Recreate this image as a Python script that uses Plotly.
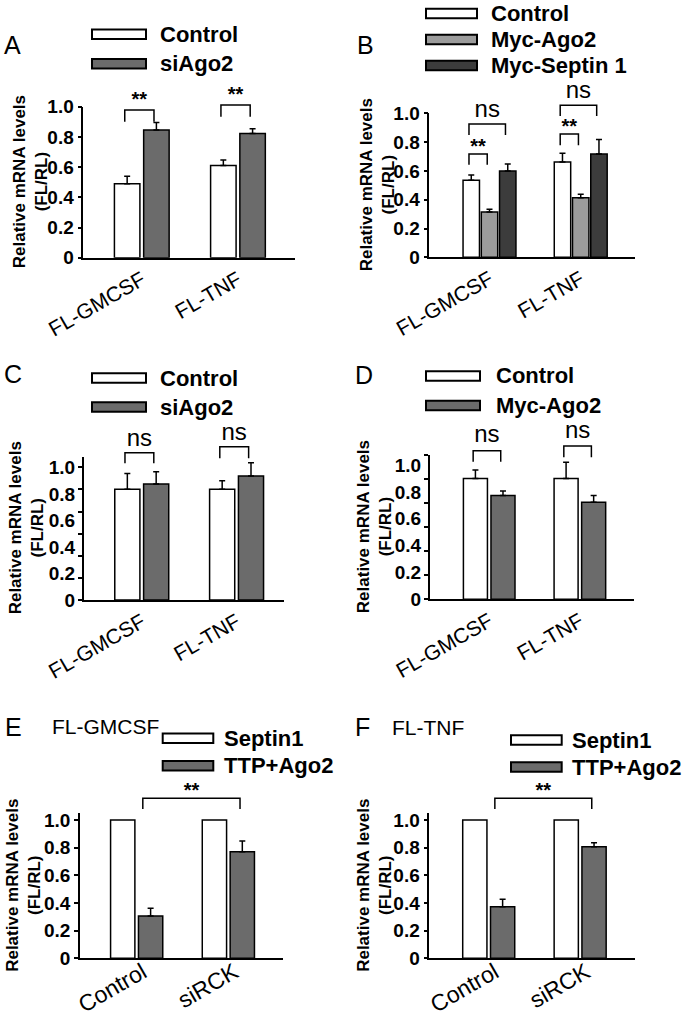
import plotly.graph_objects as go

W, H = 684, 1017
FONT = "Liberation Sans, Arial, sans-serif"

# ---------------- data ----------------
a_cats = ["FL-GMCSF", "FL-TNF"]
a_control = [0.49, 0.61]
a_control_err = [0.05, 0.037]
a_siago2 = [0.845, 0.823]
a_siago2_err = [0.05, 0.031]

b_cats = ["FL-GMCSF", "FL-TNF"]
b_control = [0.535, 0.662]
b_control_err = [0.037, 0.06]
b_mycago2 = [0.315, 0.414]
b_mycago2_err = [0.018, 0.023]
b_mycseptin1 = [0.60, 0.718]
b_mycseptin1_err = [0.048, 0.10]

c_cats = ["FL-GMCSF", "FL-TNF"]
c_control = [0.834, 0.834]
c_control_err = [0.12, 0.065]
c_siago2 = [0.874, 0.934]
c_siago2_err = [0.093, 0.10]

d_cats = ["FL-GMCSF", "FL-TNF"]
d_control = [0.90, 0.90]
d_control_err = [0.063, 0.12]
d_mycago2 = [0.772, 0.722]
d_mycago2_err = [0.034, 0.05]

e_cats = ["Control", "siRCK"]
e_septin1 = [1.0, 1.0]
e_ttpago2 = [0.306, 0.771]
e_ttpago2_err = [0.055, 0.077]

f_cats = ["Control", "siRCK"]
f_septin1 = [1.0, 1.0]
f_ttpago2 = [0.373, 0.807]
f_ttpago2_err = [0.054, 0.029]

y_ticks = [0, 0.2, 0.4, 0.6, 0.8, 1.0]
y_tick_labels = ["0", "0.2", "0.4", "0.6", "0.8", "1.0"]

# significance: (group_i, series_i, group_j, series_j, bracket top, leg bottom, label, label y)
a_sig = [(0, 0, 0, 1, 0.978, 0.901, "**", 1.036), (1, 0, 1, 1, 1.011, 0.934, "**", 1.07)]
b_sig = [(0, 0, 0, 1, 0.717, 0.643, "**", 0.76), (0, 0, 0, 2, 0.926, 0.849, "ns", 1.015),
         (1, 0, 1, 1, 0.856, 0.778, "**", 0.899), (1, 0, 1, 2, 1.056, 0.981, "ns", 1.148)]
c_sig = [(0, 0, 0, 1, 1.11, 1.03, "ns", 1.208), (1, 0, 1, 1, 1.155, 1.068, "ns", 1.251)]
d_sig = [(0, 0, 0, 1, 1.106, 1.025, "ns", 1.214), (1, 0, 1, 1, 1.141, 1.057, "ns", 1.246)]
e_sig = [(0, 1, 1, 1, 1.157, 1.08, "**", 1.20)]
f_sig = [(0, 1, 1, 1, 1.157, 1.08, "**", 1.20)]

# ---------------- styles / layout ----------------
WHITE = "#ffffff"
GRAY = "#6b6b6b"
LIGHT = "#9c9c9c"
DARK = "#3c3c3c"

panels = [
    dict(letter="A", cats=a_cats, sig=a_sig, xfs=21, xstand=0, xshift=0,
         series=[("Control", a_control, a_control_err, WHITE), ("siAgo2", a_siago2, a_siago2_err, GRAY)],
         left=83.3, right=295, y0=257.7, ppu=151, rtop=1.0, xr=(-0.608, 1.593),
         marks=None, letter_pos=(2, 44.7), ytitle_x=30,
         legend=dict(bx=(92, 146), tx=158, rows=[34.3, 63.8])),
    dict(letter="B", cats=b_cats, sig=b_sig, xfs=21, xstand=0, xshift=0,
         series=[("Control", b_control, b_control_err, WHITE), ("Myc-Ago2", b_mycago2, b_mycago2_err, LIGHT),
                 ("Myc-Septin 1", b_mycseptin1, b_mycseptin1_err, DARK)],
         left=429.3, right=635, y0=257.3, ppu=144, rtop=1.0, xr=(-0.66, 1.595),
         marks=None, letter_pos=(355, 44.7), ytitle_x=377,
         legend=dict(bx=(426, 477), tx=489, rows=[13.5, 39.5, 65.5])),
    dict(letter="C", cats=c_cats, sig=c_sig, xfs=21, xstand=0, xshift=0,
         series=[("Control", c_control, c_control_err, WHITE), ("siAgo2", c_siago2, c_siago2_err, GRAY)],
         left=84, right=284, y0=600, ppu=132.7, rtop=1.08, xr=(-0.609, 1.5),
         marks=1.0, letter_pos=(2, 374), ytitle_x=26,
         legend=dict(bx=(92, 146), tx=158, rows=[378, 407])),
    dict(letter="D", cats=d_cats, sig=d_sig, xfs=21, xstand=0, xshift=0,
         series=[("Control", d_control, d_control_err, WHITE), ("Myc-Ago2", d_mycago2, d_mycago2_err, GRAY)],
         left=430, right=634, y0=599.3, ppu=134.3, rtop=1.074, xr=(-0.653, 1.597),
         marks=1.074, letter_pos=(353, 375), ytitle_x=374,
         legend=dict(bx=(426, 480), tx=494, rows=[376, 405.5])),
    dict(letter="E", cats=e_cats, sig=e_sig, title="FL-GMCSF", title_x=50, xfs=23, xstand=-10, xshift=6,
         series=[("Septin1", e_septin1, None, WHITE), ("TTP+Ago2", e_ttpago2, e_ttpago2_err, GRAY)],
         left=80, right=283.3, y0=958.3, ppu=138.3, rtop=1.048, xr=(-0.618, 1.599),
         marks=None, letter_pos=(3, 726.7), ytitle_x=24,
         legend=dict(bx=(162.7, 213.3), tx=221.7, rows=[738.3, 765.8])),
    dict(letter="F", cats=f_cats, sig=f_sig, title="FL-TNF", title_x=390, xfs=23, xstand=-10, xshift=6,
         series=[("Septin1", f_septin1, None, WHITE), ("TTP+Ago2", f_ttpago2, f_ttpago2_err, GRAY)],
         left=429.3, right=635, y0=958.3, ppu=138.3, rtop=1.048, xr=(-0.65, 1.6),
         marks=None, letter_pos=(353, 727), ytitle_x=375,
         legend=dict(bx=(511, 561.7), tx=570, rows=[740, 767])),
]

EXT = 1.38  # value height of the overlay (annotation) axes


def fx(px):
    return px / W


def fy(py):
    return 1 - py / H


fig = go.Figure()
layout = dict(template="none", width=W, height=H, margin=dict(l=0, r=0, t=0, b=0, pad=0),
              paper_bgcolor="white", plot_bgcolor="rgba(0,0,0,0)",
              barmode="overlay", showlegend=False,
              font=dict(family=FONT, color="black"))
shapes = []
annotations = []
TICKFONT = dict(family=FONT, size=19, color="black", weight="bold")

for i, P in enumerate(panels, start=1):
    n = len(P["series"])
    if n == 2:
        bw, offs = 0.265, [-0.152, 0.152]
    else:
        bw, offs = 0.18, [-0.2, 0.0, 0.2]
    xa = "x" if i == 1 else f"x{i}"
    ya = "y" if i == 1 else f"y{i}"
    xb, yb = f"x{i + 6}", f"y{i + 6}"
    groups = list(range(len(P["cats"])))

    for (name, vals, errs, col), off in zip(P["series"], offs):
        kw = {}
        if errs is not None:
            kw["error_y"] = dict(type="data", array=errs, arrayminus=[0] * len(errs), symmetric=False,
                                 color="black", thickness=1.5, width=3)
        fig.add_trace(go.Bar(x=[g + off for g in groups], y=vals, width=bw, name=name,
                             marker=dict(color=col, line=dict(color="black", width=1.5)),
                             xaxis=xa, yaxis=ya, hoverinfo="skip", **kw))

    # brackets + significance labels on the taller overlay axes
    for gi, si, gj, sj, top, leg, lab, ly in P["sig"]:
        dl = -0.085 if P["letter"] in ("E", "F") else -0.025
        x1 = groups[gi] + offs[si] + dl
        x2 = groups[gj] + offs[sj] - 0.025
        fig.add_trace(go.Scatter(x=[x1, x1, x2, x2], y=[leg, top, top, leg], mode="lines",
                                 line=dict(color="black", width=1.5), xaxis=xb, yaxis=yb,
                                 hoverinfo="skip", cliponaxis=False))
        star = lab == "**"
        fig.add_trace(go.Scatter(x=[(x1 + x2) / 2], y=[ly], mode="text", text=[lab],
                                 textposition="middle center",
                                 textfont=dict(family=FONT, size=20 if star else 24, color="black",
                                               weight="bold" if star else "normal"),
                                 xaxis=xb, yaxis=yb, hoverinfo="skip", cliponaxis=False))

    dom_x = [fx(P["left"]), fx(P["right"])]
    dom_y = [fy(P["y0"]), fy(P["y0"] - P["rtop"] * P["ppu"])]
    dom_yb = [fy(P["y0"]), fy(P["y0"] - EXT * P["ppu"])]
    kx = "xaxis" if i == 1 else f"xaxis{i}"
    ky = "yaxis" if i == 1 else f"yaxis{i}"

    layout[kx] = dict(domain=dom_x, range=list(P["xr"]), anchor=ya, tickmode="array",
                      tickvals=groups, ticktext=P["cats"], tickangle=-30, ticks="",
                      ticklabelstandoff=P["xstand"], ticklabelshift=P["xshift"],
                      showline=True, linecolor="black", linewidth=1.5, showgrid=False,
                      zeroline=False, fixedrange=True, automargin=False,
                      tickfont=dict(family=FONT, size=P["xfs"], color="black"))
    ymain = dict(domain=dom_y, range=[0, P["rtop"]], anchor=xa, showline=True,
                 linecolor="black", linewidth=1.5, ticks="outside", ticklen=4,
                 tickwidth=1.5, tickcolor="black", showgrid=False, zeroline=False,
                 fixedrange=True, automargin=False, tickfont=TICKFONT)
    if P["marks"] is None:
        ymain.update(tickmode="array", tickvals=y_ticks, ticktext=y_tick_labels)
    else:
        ymain.update(tickmode="array", tickvals=[P["marks"] * k / 6 for k in range(7)],
                     showticklabels=False)
    layout[ky] = ymain

    layout[f"xaxis{i + 6}"] = dict(domain=dom_x, range=list(P["xr"]), anchor=yb, visible=False,
                                   fixedrange=True, automargin=False, showgrid=False, zeroline=False)
    yover = dict(domain=dom_yb, range=[0, EXT], anchor=xb, fixedrange=True, showgrid=False,
                 zeroline=False, showline=False, automargin=False)
    if P["marks"] is None:
        yover["visible"] = False
    else:
        yover.update(visible=True, tickmode="array", tickvals=y_ticks, ticktext=y_tick_labels,
                     ticks="outside", ticklen=4, tickwidth=1.5, tickcolor="rgba(0,0,0,0)",
                     tickfont=TICKFONT)
    layout[f"yaxis{i + 6}"] = yover

    # y axis title
    annotations.append(dict(text="Relative mRNA levels<br>(FL/RL)", textangle=-90,
                            xref="paper", yref=f"{ya} domain", x=fx(P["ytitle_x"]), y=0.5,
                            xanchor="center", yanchor="middle", showarrow=False,
                            font=dict(family=FONT, size=17, color="black", weight="bold")))
    # panel letter
    lx, lyy = P["letter_pos"]
    annotations.append(dict(text=P["letter"], xref="paper", yref="paper", x=fx(lx), y=fy(lyy),
                            xanchor="left", yanchor="middle", showarrow=False,
                            font=dict(family=FONT, size=25, color="black")))
    if "title" in P:
        annotations.append(dict(text=P["title"], xref="paper", yref="paper", x=fx(P["title_x"]),
                                y=fy(lyy), xanchor="left", yanchor="middle", showarrow=False,
                                font=dict(family=FONT, size=21, color="black")))
    # custom legend
    L = P["legend"]
    for (name, vals, errs, col), ry in zip(P["series"], L["rows"]):
        shapes.append(dict(type="rect", xref="paper", yref="paper",
                           x0=fx(L["bx"][0]), x1=fx(L["bx"][1]), y0=fy(ry - 4.7), y1=fy(ry + 4.7),
                           fillcolor=col, line=dict(color="black", width=2)))
        annotations.append(dict(text=name, xref="paper", yref="paper", x=fx(L["tx"]), y=fy(ry),
                                xanchor="left", yanchor="middle", showarrow=False,
                                font=dict(family=FONT, size=22, color="black", weight="bold")))

layout["shapes"] = shapes
layout["annotations"] = annotations
fig.update_layout(**layout)
fig.write_html("out.html", config={"displayModeBar": False},
               post_script="document.body.style.margin='0';document.body.style.padding='0';")
